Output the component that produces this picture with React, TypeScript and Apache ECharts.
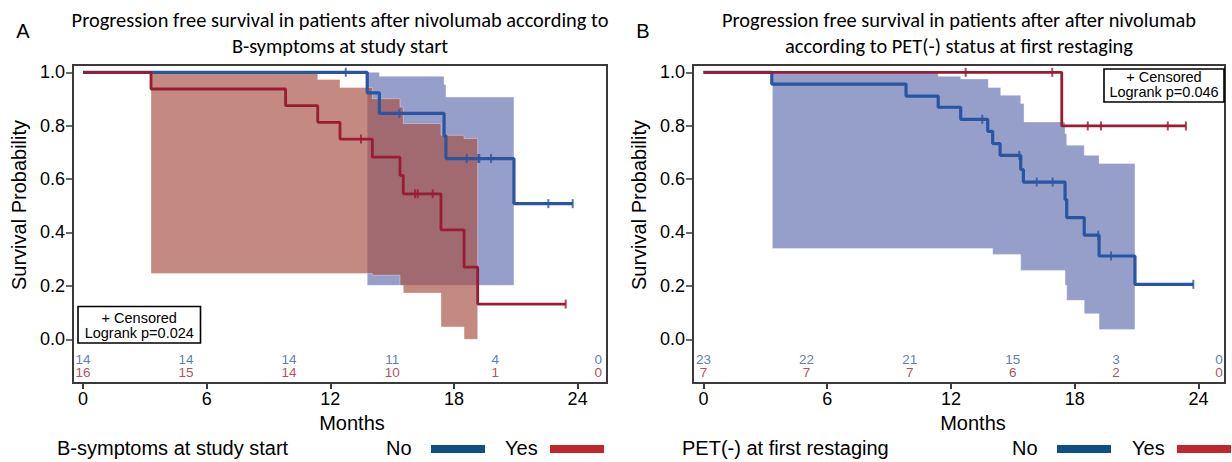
import React, { useEffect, useRef } from "react";
import * as echarts from "echarts";

// ---- axis ticks / at-risk times ----
const xTicks = [0, 6, 12, 18, 24];
const yTicks = [0, 0.2, 0.4, 0.6, 0.8, 1.0];
const riskTimes = [0, 5, 10, 15, 20, 25];

// ---- Panel A: B-symptoms at study start ----
const aNoT = [0, 13.79, 14.38, 17.52, 17.61, 20.91, 23.76];
const aNoS = [1, 0.923, 0.846, 0.762, 0.677, 0.508, 0.508];
const aNoCens = [12.75, 15.35, 18.62, 19.18, 19.23, 19.8, 22.58, 23.76];
const aYesT = [0, 3.3, 9.83, 11.39, 12.47, 14.04, 15.38, 15.54, 17.37, 18.49, 19.15, 23.42];
const aYesS = [1, 0.9375, 0.875, 0.8125, 0.75, 0.682, 0.614, 0.545, 0.41, 0.27, 0.132, 0.132];
const aYesCens = [13.49, 16.11, 16.24, 16.97, 23.42];

const aNoUpT = [13.79, 14.38, 17.52, 17.61];
const aNoUpV = [1.0, 0.985, 0.954, 0.907];
const aNoLoT = [13.79];
const aNoLoV = [0.202];
const aNoBandEnd = 20.91;

const aYesUpT = [3.3, 11.39, 12.47, 14.04, 15.38, 15.54, 17.37, 18.49];
const aYesUpV = [1.0, 0.973, 0.943, 0.901, 0.87, 0.808, 0.764, 0.752];
const aYesLoT = [3.3, 14.04, 15.38, 15.54, 17.37, 18.49];
const aYesLoV = [0.246, 0.24, 0.202, 0.173, 0.046, 0.0];
const aYesBandEnd = 19.15;

const aRiskNo = [14, 14, 14, 11, 4, 0];
const aRiskYes = [16, 15, 14, 10, 1, 0];

// ---- Panel B: PET(-) at first restaging ----
const bNoT = [0, 3.31, 9.82, 11.38, 12.47, 13.78, 14.02, 14.38, 15.38, 15.51, 17.53, 17.61, 18.46, 19.18, 20.92, 23.75];
const bNoS = [1, 0.956, 0.911, 0.869, 0.824, 0.779, 0.733, 0.689, 0.636, 0.589, 0.524, 0.456, 0.39, 0.312, 0.206, 0.206];
const bNoCens = [13.52, 15.31, 16.16, 16.93, 19.14, 19.76, 23.75];
const bYesT = [0, 17.37, 23.39];
const bYesS = [1, 0.799, 0.799];
const bYesCens = [12.71, 16.91, 18.63, 19.27, 22.51, 23.39];

const bNoUpT = [3.34, 11.38, 12.47, 13.81, 14.41, 15.38, 15.54, 17.53, 17.61, 18.46, 19.18];
const bNoUpV = [1.0, 0.985, 0.975, 0.943, 0.914, 0.883, 0.814, 0.77, 0.727, 0.689, 0.658];
const bNoLoT = [3.34, 14.02, 15.38, 17.53, 17.61, 18.46, 19.18];
const bNoLoV = [0.34, 0.318, 0.258, 0.202, 0.146, 0.096, 0.037];
const bNoBandEnd = 20.92;

const bRiskNo = [23, 22, 21, 15, 3, 0];
const bRiskYes = [7, 7, 7, 6, 2, 0];

// ---- styling constants ----
const AX = "Liberation Sans, Arial, sans-serif";
const TITLE_FONT = "Carlito, Lato, sans-serif";
const BLUE = "#2a55a0";
const RED = "#9a1c32";
const BLUE_TXT = "#2e5aab";
const RED_TXT = "#9c2035";
const FRAME = "#3a3a3a";
const ROW_NO = -0.0757;
const ROW_YES = -0.126;

function survAt(ts: number[], ss: number[], t: number) {
  let v = ss[0];
  for (let i = 0; i < ts.length; i++) if (ts[i] <= t) v = ss[i];
  return v;
}

function stepPts(ts: number[], vs: number[], end: number) {
  const pts: number[][] = [];
  for (let i = 0; i < ts.length; i++) {
    pts.push([ts[i], vs[i]]);
    pts.push([i + 1 < ts.length ? ts[i + 1] : end, vs[i]]);
  }
  return pts;
}

function bandSeries(idx: number, upT: number[], upV: number[], loT: number[], loV: number[], end: number, color: string, z: number) {
  const pts = stepPts(upT, upV, end).concat(stepPts(loT, loV, end).reverse());
  return {
    type: "custom",
    xAxisIndex: idx,
    yAxisIndex: idx,
    z,
    silent: true,
    clip: false,
    data: [[upT[0], upV[0]]],
    renderItem: (_p: any, api: any) => ({
      type: "polygon",
      shape: { points: pts.map((p) => api.coord(p)) },
      style: { fill: color, stroke: "rgba(255,255,255,0.35)", lineWidth: 1 },
    }),
  };
}

function kmLine(idx: number, ts: number[], ss: number[], color: string, width: number, z: number) {
  return {
    type: "line",
    xAxisIndex: idx,
    yAxisIndex: idx,
    step: "end",
    showSymbol: false,
    symbol: "none",
    z,
    silent: true,
    lineStyle: { color, width },
    data: ts.map((t, i) => [t, ss[i]]),
  };
}

function censorSeries(idx: number, cens: number[], ts: number[], ss: number[], color: string, z: number) {
  return {
    type: "scatter",
    xAxisIndex: idx,
    yAxisIndex: idx,
    symbol: "rect",
    symbolSize: [2, 9],
    z,
    silent: true,
    itemStyle: { color },
    data: cens.map((t) => [t, survAt(ts, ss, t)]),
  };
}

function riskSeries(idx: number, counts: number[], row: number, color: string) {
  return {
    type: "scatter",
    xAxisIndex: idx,
    yAxisIndex: idx,
    symbolSize: 1,
    z: 6,
    silent: true,
    clip: false,
    itemStyle: { color: "rgba(0,0,0,0)" },
    labelLayout: { hideOverlap: false },
    label: {
      show: true,
      position: "inside",
      offset: [2, 0],
      formatter: (p: any) => String(p.value[2]),
      color,
      fontFamily: AX,
      fontSize: 13.5,
      lineHeight: 13,
    },
    data: riskTimes.map((t, i) => [t, row, counts[i]]),
  };
}

function xAxis(idx: number, min: number, max: number) {
  return {
    type: "value",
    gridIndex: idx,
    min,
    max,
    position: "bottom",
    axisLine: { show: true, onZero: false, lineStyle: { color: FRAME, width: 2 } },
    axisTick: { show: true, inside: false, length: 6, customValues: xTicks, lineStyle: { color: FRAME, width: 2 } },
    axisLabel: { show: true, customValues: xTicks, margin: 7, color: "#000", fontFamily: AX, fontSize: 18 },
    splitLine: { show: false },
  };
}

function yAxis(idx: number) {
  return {
    type: "value",
    gridIndex: idx,
    min: -0.1637,
    max: 1.0273,
    axisLine: { show: true, onZero: false, lineStyle: { color: FRAME, width: 2 } },
    axisTick: { show: true, inside: false, length: 7, customValues: yTicks, lineStyle: { color: FRAME, width: 1.5 } },
    axisLabel: {
      show: true,
      customValues: yTicks,
      margin: 8,
      color: "#000",
      fontFamily: AX,
      fontSize: 18,
      formatter: (v: number) => v.toFixed(1),
    },
    splitLine: { show: false },
  };
}

function txt(text: string, x: number, y: number, font: string, align = "center", extra: any = {}) {
  return {
    type: "text",
    x,
    y,
    silent: true,
    ...extra,
    style: { text, font, fill: "#000", textAlign: align, textVerticalAlign: "middle" },
  };
}

function censBox(x: number, y: number, w: number, h: number, p: string, y1: number, y2: number) {
  return [
    {
      type: "rect",
      z: 20,
      shape: { x, y, width: w, height: h },
      style: { fill: "#fff", stroke: "#000", lineWidth: 1.6 },
    },
    { ...txt("+ Censored", x + w / 2, y1, `14.5px ${AX}`), z: 21 },
    { ...txt(`Logrank p=${p}`, x + w / 2, y2, `14.5px ${AX}`), z: 21 },
  ];
}

export default function App() {
  const ref = useRef<HTMLDivElement>(null);
  useEffect(() => {
    if (!ref.current) return;
    const chart = echarts.init(ref.current, undefined, { renderer: "svg" });
    const option: any = {
      animation: false,
      backgroundColor: "#fff",
      grid: [
        { left: 73, top: 65, width: 534, height: 318, show: true, borderColor: FRAME, borderWidth: 2, backgroundColor: "transparent" },
        { left: 693, top: 65, width: 532, height: 318, show: true, borderColor: FRAME, borderWidth: 2, backgroundColor: "transparent" },
      ],
      xAxis: [xAxis(0, -0.485, 25.425), xAxis(1, -0.509, 25.285)],
      yAxis: [yAxis(0), yAxis(1)],
      series: [
        bandSeries(0, aNoUpT, aNoUpV, aNoLoT, aNoLoV, aNoBandEnd, "rgba(98,110,176,0.67)", 1),
        bandSeries(0, aYesUpT, aYesUpV, aYesLoT, aYesLoV, aYesBandEnd, "rgba(167,80,69,0.67)", 2),
        kmLine(0, aNoT, aNoS, BLUE, 3.2, 3),
        kmLine(0, aYesT, aYesS, RED, 2.8, 4),
        censorSeries(0, aNoCens, aNoT, aNoS, BLUE, 5),
        censorSeries(0, aYesCens, aYesT, aYesS, RED, 5),
        riskSeries(0, aRiskNo, ROW_NO, BLUE_TXT),
        riskSeries(0, aRiskYes, ROW_YES, RED_TXT),

        bandSeries(1, bNoUpT, bNoUpV, bNoLoT, bNoLoV, bNoBandEnd, "rgba(98,110,176,0.67)", 1),
        kmLine(1, bNoT, bNoS, BLUE, 3.2, 3),
        kmLine(1, bYesT, bYesS, RED, 2.8, 4),
        censorSeries(1, bNoCens, bNoT, bNoS, BLUE, 5),
        censorSeries(1, bYesCens, bYesT, bYesS, RED, 5),
        riskSeries(1, bRiskNo, ROW_NO, BLUE_TXT),
        riskSeries(1, bRiskYes, ROW_YES, RED_TXT),
      ],
      graphic: [
        // panel letters
        txt("A", 23, 31, `20px ${AX}`),
        txt("B", 643, 31, `20px ${AX}`),
        // titles
        txt("Progression free survival in patients after nivolumab according to", 340, 20, `20.4px ${TITLE_FONT}`),
        txt("B-symptoms at study start", 340, 46, `20.4px ${TITLE_FONT}`),
        txt("Progression free survival in patients after after nivolumab", 959, 20, `20.4px ${TITLE_FONT}`),
        txt("according to PET(-) status at first restaging", 959, 46, `20.4px ${TITLE_FONT}`),
        // y axis names
        txt("Survival Probability", 19, 205, `20px ${AX}`, "center", { rotation: Math.PI / 2 }),
        txt("Survival Probability", 639, 205, `20px ${AX}`, "center", { rotation: Math.PI / 2 }),
        // x axis names
        txt("Months", 352, 423, `20px ${AX}`),
        txt("Months", 973, 423, `20px ${AX}`),
        // legends
        txt("B-symptoms at study start", 57, 448, `20px ${AX}`, "left"),
        txt("No", 386, 448, `20px ${AX}`, "left"),
        { type: "rect", shape: { x: 431, y: 445, width: 54, height: 8 }, style: { fill: "#0e4f86" } },
        txt("Yes", 505, 448, `20px ${AX}`, "left"),
        { type: "rect", shape: { x: 550, y: 445, width: 54, height: 8 }, style: { fill: "#c0272d" } },
        txt("PET(-) at first restaging", 682, 448, `20px ${AX}`, "left"),
        txt("No", 1012, 448, `20px ${AX}`, "left"),
        { type: "rect", shape: { x: 1057, y: 445, width: 54, height: 8 }, style: { fill: "#0e4f86" } },
        txt("Yes", 1132, 448, `20px ${AX}`, "left"),
        { type: "rect", shape: { x: 1177, y: 445, width: 54, height: 8 }, style: { fill: "#c0272d" } },
        // censored / logrank boxes
        ...censBox(78, 306.5, 122.5, 36.5, "0.024", 318, 333.3),
        ...censBox(1104, 69, 120, 33, "0.046", 77, 92),
      ],
    };
    chart.setOption(option);
    return () => chart.dispose();
  }, []);
  return <div ref={ref} style={{ position: "fixed", left: 0, top: 0, width: 1232, height: 462 }} />;
}
